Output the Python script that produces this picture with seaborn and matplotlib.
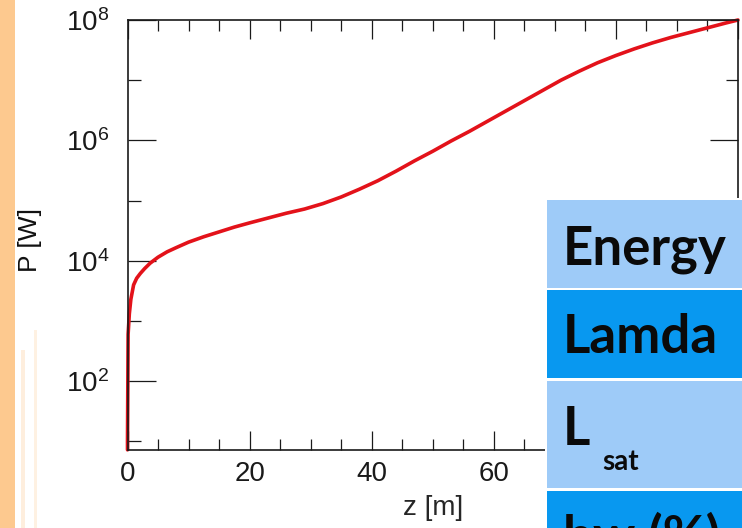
import numpy as np
import pandas as pd
import matplotlib
matplotlib.use("Agg")
import matplotlib.pyplot as plt
import matplotlib.ticker as mticker
from matplotlib.patches import Rectangle
import seaborn as sns

# Radiated power along the undulator (log10 of P in W)
z_m = [0.0, 0.0, 0.1, 0.3, 0.55, 1.0, 1.5, 2.1, 2.8, 3.7, 5.0, 6.5, 8.0,
       10.0, 12.5, 15.0, 17.5, 20.0, 23.0, 26.0, 29.0, 32.0, 35.0, 38.0,
       41.0, 44.0, 47.0, 50.0, 53.0, 56.0, 59.0, 62.0, 65.0, 68.0, 71.0,
       74.0, 77.0, 80.0, 83.0, 86.0, 89.0, 92.0, 95.0, 98.0, 100.0]
log_p = [0.86, 1.0, 2.78, 3.12, 3.36, 3.60, 3.71, 3.79, 3.87, 3.96, 4.06,
         4.15, 4.22, 4.31, 4.40, 4.48, 4.56, 4.63, 4.71, 4.79, 4.86, 4.95,
         5.06, 5.19, 5.33, 5.49, 5.66, 5.82, 5.99, 6.15, 6.32, 6.49, 6.66,
         6.83, 7.00, 7.15, 7.29, 7.41, 7.52, 7.62, 7.71, 7.79, 7.87, 7.95,
         8.0]
power_w = [10 ** v for v in log_p]

y_major = [1e2, 1e4, 1e6, 1e8]
y_major_labels = ["$10^{2}$", "$10^{4}$", "$10^{6}$", "$10^{8}$"]
y_minor = [1e1, 1e3, 1e5, 1e7]
x_major = [0, 20, 40, 60, 80, 100]
x_major_labels = ["0", "20", "40", "60", "80", "100"]

# Parameter table rows
row_labels = ["Energy", "Lamda", "L", "bw (%)"]
row_colors = ["#9ecbf8", "#0898f0", "#9ecbf8", "#0898f0"]

sns.set_theme(style="ticks")
plt.rcParams["font.family"] = ["Liberation Sans", "DejaVu Sans"]
plt.rcParams["mathtext.fontset"] = "custom"
plt.rcParams["mathtext.rm"] = "Liberation Sans"
plt.rcParams["mathtext.it"] = "Liberation Sans:italic"

W, H = 742, 528
fig = plt.figure(figsize=(W / 100, H / 100), dpi=100)
fig.patch.set_facecolor("white")


def fx(px):
    return px / W


def fy(py):
    return 1 - py / H


ax = fig.add_axes([fx(127.5), fy(450), fx(738) - fx(127.5), fy(20) - fy(450)])

df = pd.DataFrame({"z": z_m, "P": power_w})
sns.lineplot(data=df, x="z", y="P", ax=ax, color="#e3121a", lw=2.6,
             estimator=None, sort=False)
for ln in ax.lines:
    ln.set_clip_on(False)

ax.set_yscale("log")
ax.set_xlim(0, 100)
ax.set_ylim(7.2, 1e8)

ax.yaxis.set_major_locator(mticker.FixedLocator(y_major))
ax.yaxis.set_major_formatter(mticker.FixedFormatter(y_major_labels))
ax.yaxis.set_minor_locator(mticker.FixedLocator(y_minor))
ax.yaxis.set_minor_formatter(mticker.NullFormatter())
ax.xaxis.set_major_locator(mticker.FixedLocator(x_major))
ax.xaxis.set_major_formatter(mticker.FixedFormatter(x_major_labels))
ax.xaxis.set_minor_locator(mticker.MultipleLocator(5))

ax.tick_params(axis="both", which="both", direction="in", top=True,
               right=True, colors="#1a1a1a", width=0.9)
ax.tick_params(axis="y", which="major", length=20, pad=13, labelsize=20)
ax.tick_params(axis="y", which="minor", length=9)
ax.tick_params(axis="x", which="major", length=14, pad=8, labelsize=20)
ax.tick_params(axis="x", which="minor", length=8)
for s in ax.spines.values():
    s.set_linewidth(1.2)
    s.set_color("#1a1a1a")

ax.set_xlabel("z [m]", fontsize=20, labelpad=6)
ax.set_ylabel("")
fig.text(fx(30), fy(240), "P [W]", rotation=90, fontsize=19,
         ha="center", va="center", color="#111111")

# Slide background accents on the left edge
fig.patches.append(Rectangle((0, 0), fx(15), 1, transform=fig.transFigure,
                             facecolor="#fdc98f", edgecolor="none", zorder=5))
for x0, y0, wpx, a in [(21, 350, 4, 0.3), (34, 330, 3, 0.25)]:
    fig.patches.append(Rectangle((fx(x0), 0), fx(wpx), fy(y0),
                                 transform=fig.transFigure,
                                 facecolor="#fdc98f", edgecolor="none",
                                 alpha=a, zorder=5))

# Parameter table overlay
row_bounds = [(200, 288), (290, 378), (381, 488), (491, 560)]
baselines = [265, 353, 445, 553]
fig.patches.append(Rectangle((fx(545), 0), 1, fy(198), transform=fig.transFigure,
                             facecolor="white", edgecolor="none", zorder=9))
for (top, bot), col, lab, base in zip(row_bounds, row_colors, row_labels, baselines):
    fig.patches.append(Rectangle((fx(547), fy(bot)), 1, fy(top) - fy(bot),
                                 transform=fig.transFigure, facecolor=col,
                                 edgecolor="none", zorder=10))
    fig.text(fx(563), fy(base), lab, fontsize=38, fontweight="bold",
             family=["Lato", "DejaVu Sans"], color="#0a0a0a",
             ha="left", va="baseline", zorder=11)
fig.text(fx(602), fy(470), "sat", fontsize=20, fontweight="bold",
         family=["Lato", "DejaVu Sans"], color="#0a0a0a",
         ha="left", va="baseline", zorder=11)

fig.savefig("out.png", dpi=100)
